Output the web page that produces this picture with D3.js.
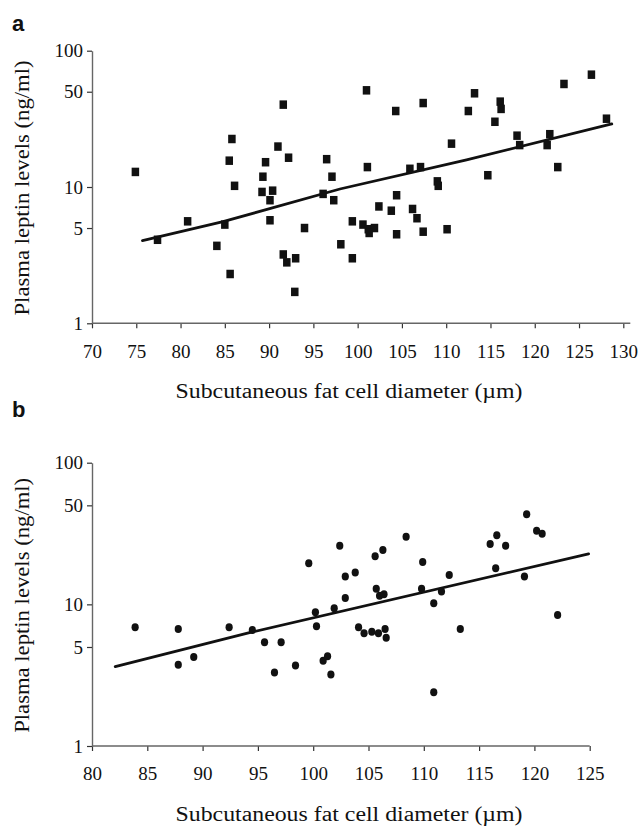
<!DOCTYPE html>
<html>
<head>
<meta charset="utf-8">
<script src="https://cdn.jsdelivr.net/npm/d3@7"></script>
<style>
  body { margin: 0; background: #fff; }
  svg { display: block; }
</style>
</head>
<body>
<div id="chart"></div>
<script>
// shared axis ticks
const leptinTicks = [1, 5, 10, 50, 100];
const aDiameterTicks = [70, 75, 80, 85, 90, 95, 100, 105, 110, 115, 120, 125, 130];
const bDiameterTicks = [80, 85, 90, 95, 100, 105, 110, 115, 120, 125];

// panel a: subcutaneous fat cell diameter (um) vs plasma leptin (ng/ml)
const aDiameter = [74.9, 77.4, 80.8, 84.1, 85.0, 85.6, 85.5, 85.8, 86.1, 89.3,
  89.2, 89.6, 90.4, 90.1, 90.1, 91.0, 91.6, 91.6, 92.0, 92.2,
  93.0, 92.9, 94.0, 96.1, 96.5, 97.1, 97.3, 98.1, 99.4, 99.4,
  101.0, 101.1, 100.6, 101.2, 101.9, 101.3, 102.4, 104.4, 104.3, 103.8,
  104.4, 105.9, 106.2, 106.7, 107.1, 107.4, 107.4, 109.0, 109.1, 110.1,
  110.6, 112.5, 113.2, 114.7, 115.5, 116.1, 116.2, 118.0, 118.3, 121.4,
  121.7, 122.6, 123.3, 126.4, 128.1];
const aLeptin = [12.9, 4.1, 5.6, 3.7, 5.3, 2.3, 15.6, 22.5, 10.2, 11.9,
  9.2, 15.2, 9.4, 8.0, 5.7, 19.8, 40.2, 3.2, 2.8, 16.4,
  3.0, 1.7, 5.0, 8.9, 16.0, 11.9, 8.0, 3.8, 5.6, 3.0,
  51.2, 14.0, 5.3, 4.9, 5.0, 4.6, 7.2, 8.7, 36.1, 6.7,
  4.5, 13.6, 6.9, 5.9, 14.0, 41.3, 4.7, 11.0, 10.2, 4.9,
  20.8, 36.1, 48.7, 12.2, 30.1, 42.3, 37.4, 23.8, 20.3, 20.3,
  24.4, 14.0, 57.0, 66.7, 31.7];
const aTrendX = [75.7, 84.8, 98.0, 112.3, 128.7];
const aTrendY = [4.04, 5.57, 9.67, 15.8, 29.0];

// panel b
const bDiameter = [83.9, 87.8, 87.8, 89.2, 92.4, 94.5, 95.6, 96.5, 97.1, 98.4,
  99.6, 100.2, 100.3, 100.9, 101.3, 101.6, 101.9, 102.4, 102.9, 102.9,
  103.8, 104.1, 104.6, 105.3, 105.6, 105.7, 105.9, 106.0, 106.3, 106.4,
  106.5, 106.6, 108.4, 109.8, 109.9, 110.9, 110.9, 111.6, 112.3, 113.3,
  116.0, 116.5, 116.6, 117.4, 119.1, 119.3, 120.2, 120.7, 122.1];
const bLeptin = [6.9, 6.7, 3.75, 4.25, 6.9, 6.6, 5.4, 3.3, 5.4, 3.7,
  19.5, 8.8, 7.0, 4.0, 4.3, 3.2, 9.4, 25.9, 11.1, 15.7,
  16.8, 6.9, 6.25, 6.4, 21.9, 12.9, 6.25, 11.5, 24.2, 11.8,
  6.7, 5.8, 30.0, 12.9, 19.9, 10.2, 2.4, 12.3, 16.1, 6.7,
  26.7, 18.0, 30.7, 25.9, 15.7, 43.2, 33.1, 31.5, 8.4];
const bTrendX = [82.1, 94.6, 124.9];
const bTrendY = [3.63, 6.41, 22.7];

const W = 641, H = 826;
const serif = "'Liberation Serif', 'Times New Roman', Times, serif";
const svg = d3.select("#chart").append("svg")
  .attr("width", W)
  .attr("height", H);

const yTitle = "Plasma leptin levels (ng/ml)";
const xTitle = "Subcutaneous fat cell diameter (\u00b5m)";

function drawPanel(opt) {
  const g = svg.append("g");

  const x = d3.scaleLinear().domain(opt.xDomain).range([92, opt.xRight]);
  const y = d3.scaleLog().domain([1, 100]).range([opt.bottom, opt.top]);

  // x axis
  const xAxis = g.append("g")
    .attr("transform", `translate(0,${opt.bottom})`)
    .call(d3.axisBottom(x).tickValues(opt.xTicks).tickSize(5).tickSizeOuter(0).tickPadding(16).tickFormat(d3.format("d")));
  xAxis.select(".domain").remove();
  xAxis.selectAll(".tick line").attr("stroke", "#333").attr("stroke-width", 1.2);
  g.append("line")
    .attr("x1", x(opt.xDomain[0])).attr("x2", x(opt.xDomain[1]) + opt.xExtra)
    .attr("y1", opt.bottom).attr("y2", opt.bottom)
    .attr("stroke", "#666").attr("stroke-width", 1.4);

  // y axis
  const yAxis = g.append("g")
    .attr("transform", "translate(92,0)")
    .call(d3.axisLeft(y).tickValues(leptinTicks).tickSize(5).tickSizeOuter(0).tickPadding(4).tickFormat(d3.format("d")));
  yAxis.select(".domain").attr("stroke", "#666").attr("stroke-width", 1.4);
  yAxis.selectAll(".tick line").attr("stroke", "#333").attr("stroke-width", 1.2);

  g.selectAll(".tick text")
    .attr("font-family", serif)
    .attr("font-size", 19)
    .attr("fill", "#111");
  xAxis.attr("font-family", serif);
  yAxis.attr("font-family", serif);

  // trend line
  const line = d3.line().x(d => x(d[0])).y(d => y(d[1]));
  g.append("path")
    .datum(d3.zip(opt.trendX, opt.trendY))
    .attr("d", line)
    .attr("fill", "none")
    .attr("stroke", "#111")
    .attr("stroke-width", 2.8)
    .attr("stroke-linecap", "round");

  const pts = d3.zip(opt.xs, opt.ys);
  if (opt.marker === "square") {
    g.selectAll(".pt").data(pts).enter().append("rect")
      .attr("class", "pt")
      .attr("x", d => x(d[0]) - 3.75)
      .attr("y", d => y(d[1]) - 4.25)
      .attr("width", 7.5)
      .attr("height", 8.5)
      .attr("fill", "#111");
  } else {
    g.selectAll(".pt").data(pts).enter().append("ellipse")
      .attr("class", "pt")
      .attr("cx", d => x(d[0]))
      .attr("cy", d => y(d[1]))
      .attr("rx", 3.6)
      .attr("ry", 4)
      .attr("fill", "#111");
  }

  // titles
  g.append("text")
    .attr("font-family", serif).attr("font-size", 21).attr("fill", "#111")
    .attr("transform", `translate(29,${(opt.top + opt.bottom) / 2 + 1}) rotate(-90)`)
    .attr("text-anchor", "middle")
    .attr("textLength", 255).attr("lengthAdjust", "spacingAndGlyphs")
    .text(yTitle);
  g.append("text")
    .attr("font-family", serif).attr("font-size", 20.5).attr("fill", "#111")
    .attr("x", 349).attr("y", opt.bottom + 75)
    .attr("text-anchor", "middle")
    .attr("textLength", 347).attr("lengthAdjust", "spacingAndGlyphs")
    .text(xTitle);
  g.append("text")
    .attr("font-family", "'Liberation Sans', Arial, sans-serif")
    .attr("font-weight", "bold").attr("font-size", 22).attr("fill", "#111")
    .attr("x", 12).attr("y", opt.labelY)
    .text(opt.label);
}

drawPanel({
  label: "a", labelY: 31,
  xDomain: [70, 130], xRight: 623.3, xExtra: 7, xTicks: aDiameterTicks,
  top: 50.7, bottom: 323.3,
  xs: aDiameter, ys: aLeptin, trendX: aTrendX, trendY: aTrendY,
  marker: "square"
});

drawPanel({
  label: "b", labelY: 417,
  xDomain: [80, 125], xRight: 589.7, xExtra: 0, xTicks: bDiameterTicks,
  top: 462.7, bottom: 746,
  xs: bDiameter, ys: bLeptin, trendX: bTrendX, trendY: bTrendY,
  marker: "circle"
});
</script>
</body>
</html>
